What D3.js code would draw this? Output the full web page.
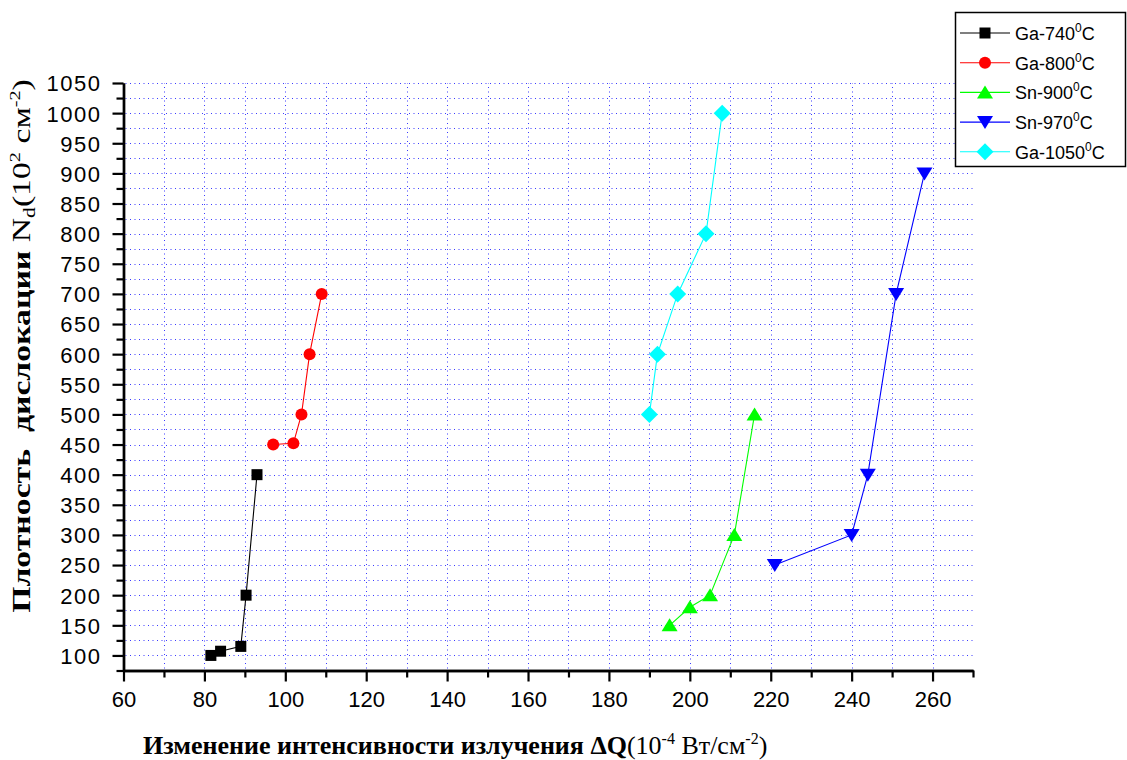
<!DOCTYPE html>
<html>
<head>
<meta charset="utf-8">
<script src="https://cdn.jsdelivr.net/npm/d3@7"></script>
<style>
  body { margin: 0; background: #fff; }
  svg { display: block; }
  .axis path, .axis line { stroke: #000; }
  .axis text { font-family: "Liberation Sans", Arial, sans-serif; fill: #000; }
</style>
</head>
<body>
<div id="chart"></div>
<script>
// значения
const seriesNames = ["Ga-740", "Ga-800", "Sn-900", "Sn-970", "Ga-1050"];
const seriesColors = ["#000000", "#ff0000", "#00ff00", "#0000ff", "#00ffff"];
const seriesShapes = ["square", "circle", "triangle", "triangleDown", "diamond"];

const ga740X = [81.6, 84, 89, 90.3, 93];
const ga740Y = [100, 107, 115, 200, 400];
const ga800X = [97, 102, 104, 106, 109];
const ga800Y = [450, 452, 500, 600, 700];
const sn900X = [195, 200, 205, 211, 216];
const sn900Y = [150, 180, 200, 300, 500];
const sn970X = [221, 240, 244, 251, 258];
const sn970Y = [250, 300, 400, 700, 900];
const ga1050X = [190, 192, 197, 204, 208];
const ga1050Y = [500, 600, 700, 800, 1000];

const xMajorTicks = d3.range(60, 261, 20);
const xMinorTicks = d3.range(70, 271, 20);
const yMajorTicks = d3.range(100, 1051, 50);
const yMinorTicks = d3.range(75, 1051, 50);

const series = [
  { xs: ga740X, ys: ga740Y },
  { xs: ga800X, ys: ga800Y },
  { xs: sn900X, ys: sn900Y },
  { xs: sn970X, ys: sn970Y },
  { xs: ga1050X, ys: ga1050Y }
].map((s, i) => ({
  name: seriesNames[i],
  color: seriesColors[i],
  shape: seriesShapes[i],
  points: s.xs.map((x, j) => ({ x: x, y: s.ys[j] }))
}));

const width = 1127, height = 760;

const svg = d3.select("#chart").append("svg")
  .attr("width", width)
  .attr("height", height);

const x = d3.scaleLinear().domain([60, 270]).range([123.5, 973]);
const y = d3.scaleLinear().domain([75, 1050]).range([670.5, 83]);

// форма маркера
function markerPath(shape) {
  switch (shape) {
    case "square":
      return "M-5.5,-5.5h11v11h-11z";
    case "circle":
      return d3.symbol(d3.symbolCircle, Math.PI * 36)();
    case "triangle":
      return "M0,-7L8,6L-8,6Z";
    case "triangleDown":
      return "M-8,-6L8,-6L0,7Z";
    case "diamond":
      return "M0,-8.5L8.5,0L0,8.5L-8.5,0Z";
    default:
      return "";
  }
}

// сетка
const grid = svg.append("g").attr("class", "grid")
  .attr("stroke", "#3b3bff")
  .attr("stroke-width", 1)
  .attr("stroke-dasharray", "1,3.5");

grid.selectAll("line.h")
  .data(d3.range(100, 1051, 25))
  .enter().append("line")
  .attr("class", "h")
  .attr("x1", x(60) + 2).attr("x2", x(270))
  .attr("y1", d => Math.round(y(d)) + 0.5)
  .attr("y2", d => Math.round(y(d)) + 0.5);

grid.selectAll("line.v")
  .data(d3.range(70, 261, 10))
  .enter().append("line")
  .attr("class", "v")
  .attr("y1", y(75) - 2).attr("y2", y(1050))
  .attr("x1", d => Math.round(x(d)) + 0.5)
  .attr("x2", d => Math.round(x(d)) + 0.5);

// оси
const fmt = d3.format("d");
const xAxisMinor = d3.axisBottom(x).tickValues(xMinorTicks).tickSize(7).tickSizeOuter(0).tickFormat("");
const xAxisMajor = d3.axisBottom(x).tickValues(xMajorTicks).tickSize(11).tickSizeOuter(0).tickPadding(10).tickFormat(fmt);
const yAxisMinor = d3.axisLeft(y).tickValues(yMinorTicks).tickSize(7).tickSizeOuter(0).tickFormat("");
const yAxisMajor = d3.axisLeft(y).tickValues(yMajorTicks).tickSize(11).tickSizeOuter(0).tickPadding(11).tickFormat(fmt);

svg.append("g").attr("class", "axis").attr("transform", `translate(0,${y(75)})`).call(xAxisMinor);
const gx = svg.append("g").attr("class", "axis").attr("transform", `translate(0,${y(75)})`).call(xAxisMajor);
svg.append("g").attr("class", "axis").attr("transform", `translate(${x(60)},0)`).call(yAxisMinor);
const gy = svg.append("g").attr("class", "axis").attr("transform", `translate(${x(60)},0)`).call(yAxisMajor);

svg.selectAll(".axis path.domain").attr("stroke-width", 2.4).attr("fill", "none");
svg.selectAll(".axis .tick line").attr("stroke-width", 2.2);
gx.selectAll(".tick text").style("font-size", "22px");
gy.selectAll(".tick text")
  .style("font-size", "22px")
  .style("letter-spacing", "1.5px")
  .attr("dy", "0.36em");

// линии и маркеры
const line = d3.line().x(d => x(d.x)).y(d => y(d.y));

const plot = svg.append("g").attr("class", "plotArea");
series.forEach(s => {
  plot.append("path")
    .datum(s.points)
    .attr("d", line)
    .attr("fill", "none")
    .attr("stroke", s.color)
    .attr("stroke-width", 1.1);
});
series.forEach(s => {
  plot.selectAll(null)
    .data(s.points)
    .enter().append("path")
    .attr("transform", d => `translate(${x(d.x)},${y(d.y)})`)
    .attr("d", markerPath(s.shape))
    .attr("fill", s.color);
});

// подписи осей
const serif = "'Liberation Serif', 'Times New Roman', serif";

const xLabel = svg.append("text")
  .attr("x", 143)
  .attr("y", 754)
  .style("font-family", serif)
  .style("font-size", "26px")
  .attr("fill", "#000");
xLabel.append("tspan").style("font-weight", "bold").text("Изменение интенсивности излучения ΔQ");
xLabel.append("tspan").text("(10");
xLabel.append("tspan").style("font-size", "16px").attr("dy", -10).text("-4");
xLabel.append("tspan").attr("dy", 10).text(" Вт/см");
xLabel.append("tspan").style("font-size", "16px").attr("dy", -10).text("-2");
xLabel.append("tspan").attr("dy", 10).text(")");

// подпись оси Y растянута вдоль строки, как в исходнике
const yLabel = svg.append("text")
  .attr("transform", "translate(30,346) rotate(-90) scale(1.35,1)")
  .attr("text-anchor", "middle")
  .style("font-family", serif)
  .style("font-size", "25px")
  .style("white-space", "pre")
  .attr("fill", "#000");
yLabel.append("tspan").style("font-weight", "bold").text("Плотность  дислокации ");
yLabel.append("tspan").text("N");
yLabel.append("tspan").style("font-size", "16px").attr("dy", 5).text("d");
yLabel.append("tspan").attr("dy", -5).text("(10");
yLabel.append("tspan").style("font-size", "15px").attr("dy", -10).text("2");
yLabel.append("tspan").attr("dy", 10).text(" см");
yLabel.append("tspan").style("font-size", "15px").attr("dy", -10).text("-2");
yLabel.append("tspan").attr("dy", 10).text(")");

// легенда
const legend = svg.append("g").attr("class", "legend");
legend.append("rect")
  .attr("x", 955.5).attr("y", 12.5)
  .attr("width", 170).attr("height", 154)
  .attr("fill", "#fff")
  .attr("stroke", "#000")
  .attr("stroke-width", 1.5);

const rows = legend.selectAll("g.row")
  .data(series)
  .enter().append("g")
  .attr("class", "row")
  .attr("transform", (d, i) => `translate(0,${33 + i * 29.7})`);

rows.append("line")
  .attr("x1", 960).attr("x2", 1010)
  .attr("stroke", d => d.color)
  .attr("stroke-width", 1.1);
rows.append("path")
  .attr("transform", "translate(985,0)")
  .attr("d", d => markerPath(d.shape))
  .attr("fill", d => d.color);

const legendText = rows.append("text")
  .attr("x", 1015)
  .attr("y", 7)
  .style("font-family", "'Liberation Sans', Arial, sans-serif")
  .style("font-size", "18px")
  .attr("fill", "#000");
legendText.append("tspan").text(d => d.name);
legendText.append("tspan").style("font-size", "12px").attr("dy", -8).text("0");
legendText.append("tspan").attr("dy", 8).text("C");
</script>
</body>
</html>
